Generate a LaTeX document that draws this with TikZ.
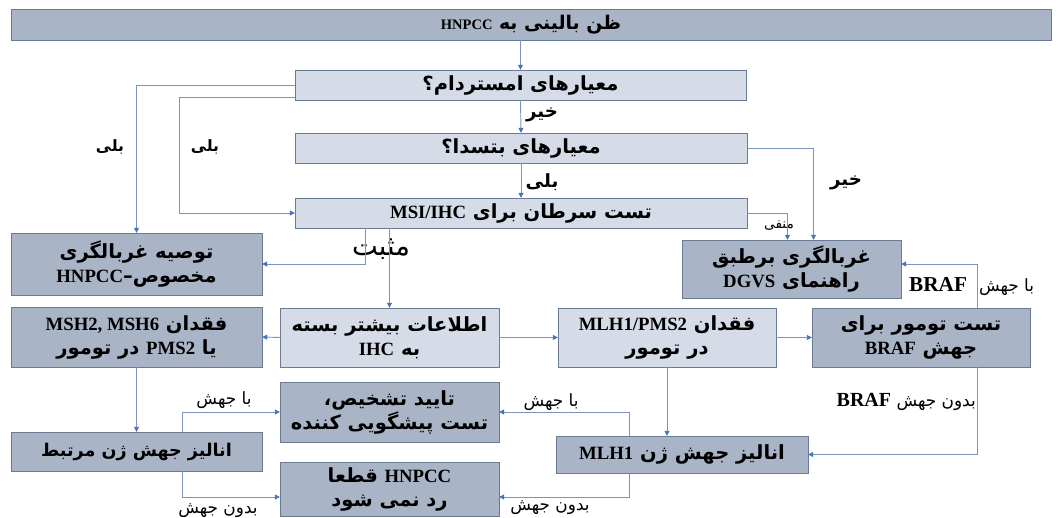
\documentclass[tikz,border=0pt]{standalone}
\usepackage{fontspec}
\setmainfont{Liberation Serif}
\newfontfamily\arabicfont[Script=Arabic,Scale=1.3]{DejaVu Sans}
\newfontfamily\latfont[Scale=1.25]{Liberation Serif}
\TeXXeTstate=1
\usetikzlibrary{arrows.meta}
\definecolor{boxdark}{RGB}{170,180,199}
\definecolor{boxlight}{RGB}{214,220,231}
\definecolor{boxline}{RGB}{105,122,146}
\definecolor{flowline}{RGB}{122,148,190}
\definecolor{tipblue}{RGB}{72,114,184}
\newcommand\fa[1]{{\arabicfont\beginR #1\endR}}
\newcommand\en[1]{\beginL{\latfont #1}\endL}
\newcommand\enplain[1]{\beginL{\rmfamily #1}\endL}

\begin{document}
\begin{tikzpicture}[x=1pt,y=1pt]
    \useasboundingbox (0,0) rectangle (1060,-518);
    % dark boxes
    \begin{scope}[every node/.style={draw=boxline,fill=boxdark,inner sep=0pt,align=center,font=\fontsize{15}{24}\selectfont\bfseries}]
      \node[minimum width=1040pt,minimum height=31pt,font=\fontsize{14.5}{24}\selectfont\bfseries] (top) at (531,-24.5) {\fa{ظن بالینی به \enplain{HNPCC}}};
      \node[minimum width=251pt,minimum height=62pt] (tos) at (136.5,-264) {\fa{توصیه غربالگری}\\\fa{مخصوص–\en{HNPCC}}};
      \node[minimum width=219pt,minimum height=58pt] (dgvs) at (791.5,-269) {\fa{غربالگری برطبق}\\\fa{راهنمای \en{DGVS}}};
      \node[minimum width=251pt,minimum height=60pt] (msh) at (136.5,-337) {\fa{فقدان \en{MSH2, MSH6}}\\\fa{یا \en{PMS2} در تومور}};
      \node[minimum width=218pt,minimum height=59pt] (braf) at (921,-337.5) {\fa{تست تومور برای}\\\fa{جهش \en{BRAF}}};
      \node[minimum width=219pt,minimum height=60pt] (conf) at (389.5,-412) {\fa{تایید تشخیص،}\\\fa{تست پیشگویی کننده}};
      \node[minimum width=251pt,minimum height=39pt,font=\fontsize{13.5}{24}\selectfont\bfseries] (rel) at (136.5,-451.5) {\fa{انالیز جهش ژن مرتبط}};
      \node[minimum width=219pt,minimum height=54pt] (hnp) at (389.5,-489) {\fa{\en{HNPCC} قطعا}\\\fa{رد نمی شود}};
      \node[minimum width=252pt,minimum height=37pt] (mlha) at (682,-454.5) {\fa{انالیز جهش ژن \en{MLH1}}};
    \end{scope}
    % light boxes
    \begin{scope}[every node/.style={draw=boxline,fill=boxlight,inner sep=0pt,align=center,font=\fontsize{15}{24}\selectfont\bfseries}]
      \node[minimum width=451pt,minimum height=30pt] (ams) at (520.5,-85) {\fa{معیارهای امستردام؟}};
      \node[minimum width=452pt,minimum height=30pt] (bet) at (521,-148) {\fa{معیارهای بتسدا؟}};
      \node[minimum width=452pt,minimum height=30pt] (msi) at (521,-213) {\fa{تست سرطان برای \en{MSI/IHC}}};
      \node[minimum width=219pt,minimum height=59pt] (ihc) at (389.5,-337.5) {\fa{اطلاعات بیشتر بسته}\\\fa{به \en{IHC}}};
      \node[minimum width=218pt,minimum height=59pt] (mlh) at (667,-337.5) {\fa{فقدان \en{MLH1/PMS2}}\\\fa{در تومور}};
    \end{scope}
    % answers
    \begin{scope}[every node/.style={inner sep=1pt,font=\fontsize{14}{16}\selectfont\bfseries}]
      \node[font=\fontsize{12}{14}\selectfont\bfseries] (yes1) at (110,-147) {\fa{بلی}};
      \node[font=\fontsize{12}{14}\selectfont\bfseries] (yes2) at (205,-147) {\fa{بلی}};
      \node (no1) at (542,-115) {\fa{خیر}};
      \node (yes3) at (542,-182) {\fa{بلی}};
      \node (no2) at (846,-183) {\fa{خیر}};
      \node[font=\fontsize{21}{23}\selectfont] (pos) at (381,-249) {\fa{مثبت}};
    \end{scope}
    \begin{scope}[every node/.style={inner sep=1pt,font=\fontsize{13}{15}\selectfont}]
      \node[font=\fontsize{10.5}{13}\selectfont] (neg) at (779,-226) {\fa{منفی}};
      \node[anchor=west] (brafy) at (908,-287) {\fa{با جهش\hskip 12pt\en{\fontsize{17}{18}\selectfont\bfseries BRAF}}};
      \node[anchor=east] (brafn) at (977,-402) {\fa{بدون جهش \en{\fontsize{16}{18}\selectfont\bfseries BRAF}}};
      \node (muty1) at (224,-400) {\fa{با جهش}};
      \node (mutn1) at (218,-511) {\fa{بدون جهش}};
      \node (muty2) at (551,-402) {\fa{با جهش}};
      \node (mutn2) at (550,-508) {\fa{بدون جهش}};
    \end{scope}
    % connectors
    \begin{scope}[color=flowline,line width=0.9pt,>={Triangle[length=5pt,width=5pt,color=tipblue]}]
      \draw[->] (top.south -| ams.north) -- (ams.north);
      \draw[->] (ams.south) -- (bet.north);
      \draw[->] (bet.south) -- (msi.north);
      \draw[->] (ams.west) -| (tos.north);
      \draw[->] ([yshift=-12pt]ams.west) -- ++(-115,0) |- (msi.west);
      \draw[->] (bet.east) -| ([xshift=22pt]dgvs.north);
      \draw[->] (msi.east) -| ([xshift=-4pt]dgvs.north);
      \draw[->] ([xshift=-156pt]msi.south) |- (tos.east);
      \draw[->] (msi.south -| ihc.north) -- (ihc.north);
      \draw[->] (ihc.west) -- (msh.east);
      \draw[->] (ihc.east) -- (mlh.west);
      \draw[->] (mlh.east) -- (braf.west);
      \draw[->] ([xshift=56pt]braf.north) |- ([yshift=5pt]dgvs.east);
      \draw[->] ([xshift=56pt]braf.south) |- (mlha.east);
      \draw[->] (mlh.south) -- (mlh.south |- mlha.north);
      \draw[->] ([xshift=-53pt]mlha.north) |- (conf.east);
      \draw[->] ([xshift=-53pt]mlha.south) |- ([yshift=-8pt]hnp.east);
      \draw[->] (msh.south) -- (rel.north);
      \draw[->] ([xshift=46pt]rel.north) |- (conf.west);
      \draw[->] ([xshift=46pt]rel.south) |- ([yshift=-8pt]hnp.west);
    \end{scope}
\end{tikzpicture}
\end{document}
